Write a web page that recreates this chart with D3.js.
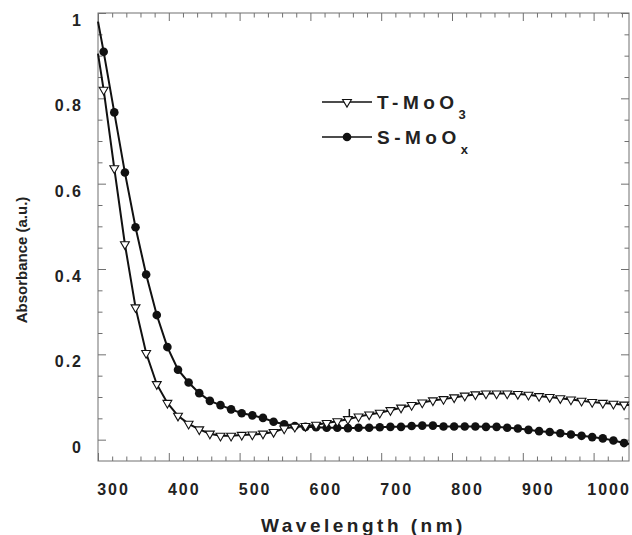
<!DOCTYPE html>
<html>
<head>
<meta charset="utf-8">
<script src="https://cdn.jsdelivr.net/npm/d3@7"></script>
<style>
  html, body { margin: 0; padding: 0; background: #fff; }
  svg { display: block; font-family: "Liberation Sans", Arial, sans-serif; }
</style>
</head>
<body>
<div id="chart"></div>
<script>
// wavelength (nm) of each sample, first and last are the curve ends without a marker
const wavelengths = [300, 308, 323, 338, 353, 368, 383, 398, 413, 428, 443, 458, 473, 488, 503,
  518, 533, 548, 563, 578, 593, 608, 623, 638, 653, 668, 683, 698, 713, 728, 743, 758, 773,
  788, 803, 818, 833, 848, 863, 878, 893, 908, 923, 938, 953, 968, 983, 998, 1013, 1028, 1043, 1050];

const tMoO3 = [0.905, 0.820, 0.636, 0.458, 0.310, 0.203, 0.130, 0.086, 0.056, 0.037, 0.024, 0.014,
  0.009, 0.009, 0.011, 0.012, 0.014, 0.018, 0.026, 0.030, 0.032, 0.035, 0.039, 0.043, 0.048, 0.054,
  0.059, 0.063, 0.069, 0.075, 0.081, 0.087, 0.092, 0.095, 0.099, 0.103, 0.106, 0.108, 0.108, 0.108,
  0.107, 0.105, 0.102, 0.100, 0.097, 0.094, 0.091, 0.088, 0.086, 0.084, 0.082, 0.081];

const sMoOx = [0.980, 0.909, 0.767, 0.626, 0.498, 0.387, 0.292, 0.217, 0.164, 0.134, 0.109, 0.091,
  0.081, 0.071, 0.062, 0.057, 0.051, 0.042, 0.036, 0.032, 0.030, 0.029, 0.028, 0.028, 0.027, 0.028,
  0.028, 0.029, 0.030, 0.030, 0.032, 0.033, 0.033, 0.031, 0.031, 0.031, 0.031, 0.030, 0.030, 0.028,
  0.026, 0.023, 0.020, 0.018, 0.015, 0.012, 0.009, 0.006, 0.003, -0.002, -0.008, -0.010];

// small spike on the T-MoO3 trace
const spikeWavelength = 655;
const spikeValues = [0.049, 0.072];

const xMajor = [300, 400, 500, 600, 700, 800, 900, 1000];
const yMajor = [0, 0.2, 0.4, 0.6, 0.8, 1];
const yLabels = ["0", "0.2", "0.4", "0.6", "0.8", "1"];

const width = 632, height = 535;
const margin = { top: 13, right: 3, bottom: 74, left: 98 };
const axisColor = "#707070";
const ink = "#111";

const x = d3.scaleLinear().domain([300, 1050]).range([margin.left, width - margin.right]);
const y = d3.scaleLinear().domain([-0.05, 1]).range([height - margin.bottom, margin.top]);

const xMinor = d3.range(300, 1051, 20).filter(v => v % 100 !== 0);
const yMinor = d3.range(0, 21).map(i => i * 0.05).filter(v => Math.round(v * 100) % 20 !== 0);

const svg = d3.select("#chart").append("svg")
  .attr("width", width).attr("height", height);

function styleAxis(g) {
  g.select(".domain").remove();
  g.selectAll(".tick line").attr("stroke", axisColor);
}

// bottom + top
svg.append("g").attr("transform", `translate(0,${y.range()[0]})`)
  .call(d3.axisBottom(x).tickValues(xMinor).tickSize(-4.5).tickFormat(""))
  .call(styleAxis);
svg.append("g").attr("transform", `translate(0,${y.range()[0]})`)
  .call(d3.axisBottom(x).tickValues(xMajor).tickSize(-8).tickFormat(d3.format("d")))
  .call(styleAxis)
  .call(g => g.selectAll("text")
    .attr("x", 15).attr("y", 28).attr("dy", "0.35em")
    .attr("fill", "#222").style("font-size", "16px").style("font-weight", "bold")
    .style("letter-spacing", "2px"));
svg.append("g").attr("transform", `translate(0,${y.range()[1]})`)
  .call(d3.axisTop(x).tickValues(xMinor).tickSize(-4.5).tickFormat(""))
  .call(styleAxis);
svg.append("g").attr("transform", `translate(0,${y.range()[1]})`)
  .call(d3.axisTop(x).tickValues(xMajor).tickSize(-8).tickFormat(""))
  .call(styleAxis);

// left + right
svg.append("g").attr("transform", `translate(${x.range()[0]},0)`)
  .call(d3.axisLeft(y).tickValues(yMinor).tickSize(-4.5).tickFormat(""))
  .call(styleAxis);
svg.append("g").attr("transform", `translate(${x.range()[0]},0)`)
  .call(d3.axisLeft(y).tickValues(yMajor).tickSize(-8).tickFormat((d, i) => yLabels[i]))
  .call(styleAxis)
  .call(g => g.selectAll("text")
    .attr("x", -15).attr("y", 7).attr("dy", "0.35em")
    .attr("fill", "#222").style("font-size", "16px").style("font-weight", "bold")
    .style("letter-spacing", "2px"));
svg.append("g").attr("transform", `translate(${x.range()[1]},0)`)
  .call(d3.axisRight(y).tickValues(yMinor).tickSize(-4.5).tickFormat(""))
  .call(styleAxis);
svg.append("g").attr("transform", `translate(${x.range()[1]},0)`)
  .call(d3.axisRight(y).tickValues(yMajor).tickSize(-8).tickFormat(""))
  .call(styleAxis);

// frame
svg.append("rect")
  .attr("x", x.range()[0]).attr("y", y.range()[1])
  .attr("width", x.range()[1] - x.range()[0]).attr("height", y.range()[0] - y.range()[1])
  .attr("fill", "none").attr("stroke", axisColor).attr("stroke-width", 1);

const plot = svg.append("g");
const line = d3.line().x(d => x(d[0])).y(d => y(d[1]));

const tData = wavelengths.map((w, i) => [w, tMoO3[i]]);
const sData = wavelengths.map((w, i) => [w, sMoOx[i]]);

plot.append("path").datum(tData)
  .attr("fill", "none").attr("stroke", ink).attr("stroke-width", 2).attr("d", line);
plot.append("path").datum(spikeValues.map(v => [spikeWavelength, v]))
  .attr("fill", "none").attr("stroke", ink).attr("stroke-width", 1.5).attr("d", line);
plot.append("path").datum(sData)
  .attr("fill", "none").attr("stroke", ink).attr("stroke-width", 2).attr("d", line);

const tri = d3.symbol().type(d3.symbolTriangle).size(34);

plot.selectAll("circle").data(sData.slice(1, -1)).enter().append("circle")
  .attr("cx", d => x(d[0])).attr("cy", d => y(d[1])).attr("r", 4.3)
  .attr("fill", ink);

plot.selectAll(".tri").data(tData.slice(1, -1)).enter().append("path")
  .attr("class", "tri")
  .attr("d", tri)
  .attr("transform", d => `translate(${x(d[0])},${y(d[1])}) rotate(180)`)
  .attr("fill", "#fff").attr("stroke", ink).attr("stroke-width", 1.1);

// legend
const legend = svg.append("g");
const legendItems = [
  { name: "T-MoO", sub: "3", y: 102, marker: "tri" },
  { name: "S-MoO", sub: "x", y: 137, marker: "circle" }
];
legendItems.forEach(d => {
  legend.append("line").attr("x1", 322).attr("x2", 372).attr("y1", d.y).attr("y2", d.y)
    .attr("stroke", ink).attr("stroke-width", 1.5);
  if (d.marker === "tri") {
    legend.append("path").attr("d", tri)
      .attr("transform", `translate(347,${d.y}) rotate(180)`)
      .attr("fill", "#fff").attr("stroke", ink).attr("stroke-width", 1.1);
  } else {
    legend.append("circle").attr("cx", 347).attr("cy", d.y).attr("r", 4.3).attr("fill", ink);
  }
  const t = legend.append("text").attr("x", 377).attr("y", d.y).attr("dy", "0.35em")
    .attr("fill", "#222").style("font-size", "19px").style("font-weight", "bold")
    .style("letter-spacing", "4.5px");
  t.append("tspan").text(d.name);
  t.append("tspan").attr("dy", "0.8em").style("font-size", "13px").style("letter-spacing", "0px")
    .text(d.sub);
});

// axis titles
svg.append("text")
  .attr("x", (x.range()[0] + x.range()[1]) / 2).attr("y", 532)
  .attr("text-anchor", "middle").attr("fill", "#222")
  .style("font-size", "19px").style("font-weight", "bold").style("letter-spacing", "3.5px")
  .text("Wavelength (nm)");

svg.append("text")
  .attr("transform", "translate(22,260) rotate(-90)")
  .attr("text-anchor", "middle").attr("dy", "0.35em").attr("fill", "#222")
  .style("font-size", "15px").style("font-weight", "bold")
  .text("Absorbance (a.u.)");
</script>
</body>
</html>
